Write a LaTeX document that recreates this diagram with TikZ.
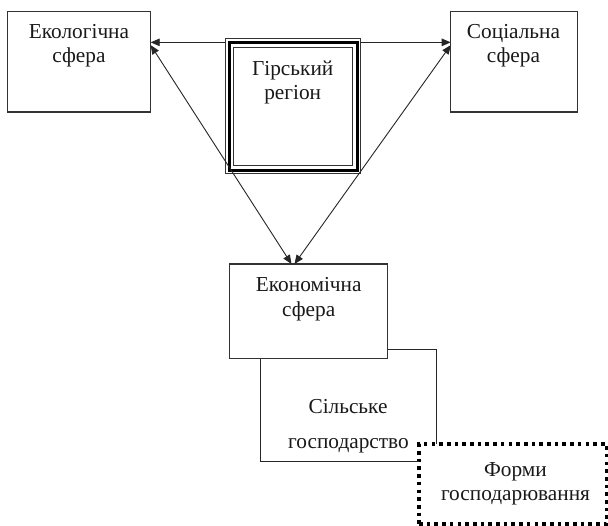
\documentclass[tikz,border=0pt]{standalone}
\usepackage{fontspec}
\setmainfont{Liberation Serif}
\usetikzlibrary{arrows.meta,calc}
\tikzset{
  box/.style={draw=black!80, line width=1.3pt, fill=white, inner sep=0pt, outer sep=0pt, rectangle},
  ringthin/.style={draw=black!80, line width=1pt, inner sep=0pt, outer sep=0pt, rectangle},
  ringthick/.style={draw=black, line width=3pt, inner sep=0pt, outer sep=0pt, rectangle},
  dotbox/.style={draw=black, line width=3.6pt, dash pattern=on 3.6pt off 4.1pt, line cap=butt, fill=white, inner sep=0pt, outer sep=0pt, rectangle},
  txt/.style={anchor=base, inner sep=0pt, outer sep=0pt, font=\fontsize{21.3}{25}\selectfont, text=black!90},
  conn/.style={draw=black!85, line width=0.9pt},
  biarrow/.style={conn, {Triangle[length=9pt,width=7.5pt]}-{Triangle[length=9pt,width=7.5pt]}}
}
\begin{document}
\begin{tikzpicture}[x=1pt,y=-1pt]
\useasboundingbox[fill=white] (0,0) rectangle (608,525);

% side boxes
\node[box, minimum width=143.4pt, minimum height=100.7pt] (eko) at (79,61.5) {};
\node[box, minimum width=126.6pt, minimum height=100.7pt] (soc) at (514,61.5) {};
\node[box, minimum width=158.4pt, minimum height=94.7pt] (econ) at (308.5,311.35) {};

% horizontal double arrow (behind the central box)
\draw[biarrow] ([yshift=-31.2pt]eko.north east) -- ([yshift=-31.2pt]soc.north west);

% central region box
\node[ringthin, fill=white, minimum width=135.3pt, minimum height=135.6pt] (gr) at (292.85,106) {};
\node[ringthick, minimum width=128.3pt, minimum height=127.8pt] (grt) at (293.15,106.1) {};
\node[ringthin, minimum width=119pt, minimum height=118.3pt] (gri) at (292.7,106.35) {};

% diagonal double arrows
\draw[biarrow] ([xshift=-17pt]econ.north) -- ([yshift=-34pt]eko.north east);
\draw[biarrow] ([xshift=-14pt]econ.north) -- ([yshift=-34pt]soc.north west);

% forms box
\node[dotbox, minimum width=187.5pt, minimum height=80pt] (forms) at (512.75,484) {};

% agriculture connectors
\draw[conn, line width=1pt] ([yshift=9.4pt]econ.south east) -| ($(forms.north west)+(17.7,0)$);
\draw[conn, line width=1pt] ([xshift=30.7pt]econ.south west) |- ([yshift=22.3pt]forms.west);

% texts
\node[txt] (eko1) at (79,38.3) {Екологічна};
\node[txt] (eko2) at (79,62.7) {сфера};
\node[txt] (soc1) at (513.5,38.3) {Соціальна};
\node[txt] (soc2) at (513.5,62.7) {сфера};
\node[txt] (gr1) at (292.7,75) {Гірський};
\node[txt] (gr2) at (292.7,99) {регіон};
\node[txt] (ec1) at (308.7,291.7) {Економічна};
\node[txt] (ec2) at (308.7,316.7) {сфера};
\node[txt] (sg1) at (348,413.3) {Сільське};
\node[txt] (sg2) at (348.5,448.7) {господарство};
\node[txt] (fo1) at (515.5,476.7) {Форми};
\node[txt] (fo2) at (515.5,500.5) {господарювання};
\end{tikzpicture}
\end{document}
